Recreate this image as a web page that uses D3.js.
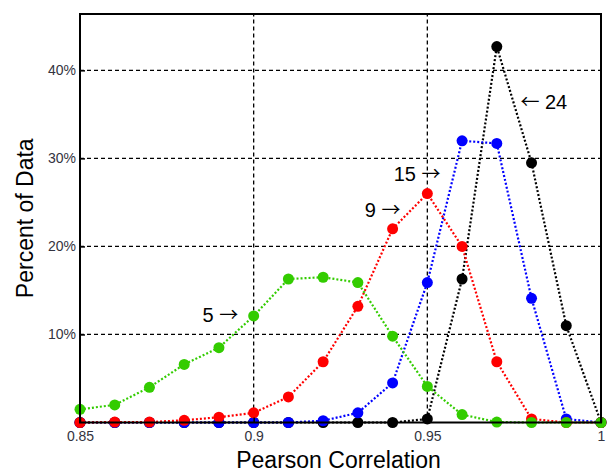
<!DOCTYPE html>
<html>
<head>
<meta charset="utf-8">
<script src="https://cdn.jsdelivr.net/npm/d3@7"></script>
<style>
  body { margin: 0; background: #fff; }
  text { font-family: "Liberation Sans", Arial, sans-serif; }
</style>
</head>
<body>
<div id="chart"></div>
<script>
const margin = { top: 14, right: 5, bottom: 49.5, left: 80 };
const width = 608, height = 472;

// x positions of the points (Pearson correlation)
const corr = [0.85, 0.86, 0.87, 0.88, 0.89, 0.90, 0.91, 0.92, 0.93, 0.94, 0.95, 0.96, 0.97, 0.98, 0.99, 1.00];
// percent of data for each window size
const s24 = [0, 0, 0, 0, 0, 0, 0, 0, 0, 0, 0.4, 16.3, 42.7, 29.5, 11.0, 0];
const s15 = [0, 0, 0, 0, 0, 0, 0, 0.2, 1.1, 4.5, 15.9, 32.0, 31.7, 14.1, 0.4, 0];
const s9  = [0, 0.05, 0.05, 0.25, 0.6, 1.1, 2.9, 6.9, 13.2, 22.0, 26.0, 20.0, 6.9, 0.4, 0, 0];
const s5  = [1.5, 2.0, 4.0, 6.6, 8.5, 12.1, 16.3, 16.5, 15.9, 9.8, 4.1, 0.9, 0.05, 0, 0, 0];

const xTicks = [0.85, 0.9, 0.95, 1];
const xTickLabels = ["0.85", "0.9", "0.95", "1"];
const yTicks = [10, 20, 30, 40];

// label parts: [text, isArrow]
const series = [
  { name: "24", values: s24, color: "#000000", parts: [["\u2190", true], [" 24", false]], at: 0.9768, y: 36.4 },
  { name: "15", values: s15, color: "#0000ff", parts: [["15 ", false], ["\u2192", true]], at: 0.9403, y: 28.2 },
  { name: "9",  values: s9,  color: "#ff0000", parts: [["9 ", false], ["\u2192", true]],  at: 0.9320, y: 24.1 },
  { name: "5",  values: s5,  color: "#33cc00", parts: [["5 ", false], ["\u2192", true]],  at: 0.8853, y: 12.2 }
];

let x = d3.scaleLinear().domain([0.85, 1]).range([margin.left, width - margin.right - 2]);
let y = d3.scaleLinear().domain([0, 46.4]).range([height - margin.bottom, margin.top]);

let svg = d3.select("#chart").append("svg")
  .attr("width", width)
  .attr("height", height);

// grid
svg.append("g")
  .selectAll("line")
  .data(yTicks)
  .join("line")
  .attr("x1", x(0.85)).attr("x2", x(1))
  .attr("y1", d => y(d)).attr("y2", d => y(d))
  .attr("stroke", "#000").attr("stroke-width", 1.3)
  .attr("stroke-dasharray", "4,3");

svg.append("g")
  .selectAll("line")
  .data(xTicks.slice(1, 3))
  .join("line")
  .attr("x1", d => x(d)).attr("x2", d => x(d))
  .attr("y1", y(0)).attr("y2", margin.top)
  .attr("stroke", "#000").attr("stroke-width", 1.3)
  .attr("stroke-dasharray", "4,3");

// series
let line = d3.line()
  .x((d, i) => x(corr[i]))
  .y(d => y(d));

series.forEach(s => {
  svg.append("path")
    .datum(s.values)
    .attr("fill", "none")
    .attr("stroke", s.color)
    .attr("stroke-width", 2.2)
    .attr("stroke-dasharray", "2,2")
    .attr("d", line);
});
series.forEach(s => {
  svg.append("g")
    .selectAll("circle")
    .data(s.values)
    .join("circle")
    .attr("cx", (d, i) => x(corr[i]))
    .attr("cy", d => y(d))
    .attr("r", 5.5)
    .attr("fill", s.color);
});

// frame
svg.append("rect")
  .attr("x", x(0.85)).attr("y", margin.top)
  .attr("width", x(1) - x(0.85)).attr("height", y(0) - margin.top)
  .attr("fill", "none").attr("stroke", "#000").attr("stroke-width", 2);

// axes
let xAxis = svg.append("g")
  .attr("transform", `translate(0,${y(0)})`)
  .call(d3.axisBottom(x).tickValues(xTicks).tickFormat((d, i) => xTickLabels[i]).tickSize(-5).tickPadding(9));
xAxis.select(".domain").remove();
xAxis.selectAll("line").attr("stroke", "#000").attr("stroke-width", 1.5);
xAxis.selectAll("text").attr("font-size", 14).attr("fill", "#333340")
  .attr("font-family", "'Liberation Sans', Arial, sans-serif");

let yAxis = svg.append("g")
  .attr("transform", `translate(${x(0.85)},0)`)
  .call(d3.axisLeft(y).tickValues(yTicks).tickFormat(d => d + "%").tickSize(-5).tickPadding(4));
yAxis.select(".domain").remove();
yAxis.selectAll("line").attr("stroke", "#000").attr("stroke-width", 1.5);
yAxis.selectAll("text").attr("font-size", 14).attr("fill", "#333340")
  .attr("font-family", "'Liberation Sans', Arial, sans-serif");

// series labels (arrows from a CJK font for a long full-width glyph)
let labels = svg.append("g")
  .selectAll("text")
  .data(series)
  .join("text")
  .attr("x", d => x(d.at))
  .attr("y", d => y(d.y))
  .attr("dy", "0.35em")
  .attr("font-size", 20)
  .attr("fill", "#000");
labels.selectAll("tspan")
  .data(d => d.parts)
  .join("tspan")
  .attr("font-family", p => p[1] ? "'Noto Sans CJK SC', 'DejaVu Sans', sans-serif" : "'Liberation Sans', Arial, sans-serif")
  .attr("font-size", p => p[1] ? 19 : 20)
  .text(p => p[0]);

// axis titles
svg.append("text")
  .attr("x", (x(0.85) + x(1)) / 2 - 2)
  .attr("y", 468)
  .attr("text-anchor", "middle")
  .attr("font-size", 23)
  .text("Pearson Correlation");

svg.append("text")
  .attr("transform", `translate(33,${(y(0) + margin.top) / 2}) rotate(-90)`)
  .attr("text-anchor", "middle")
  .attr("font-size", 23)
  .text("Percent of Data");
</script>
</body>
</html>
